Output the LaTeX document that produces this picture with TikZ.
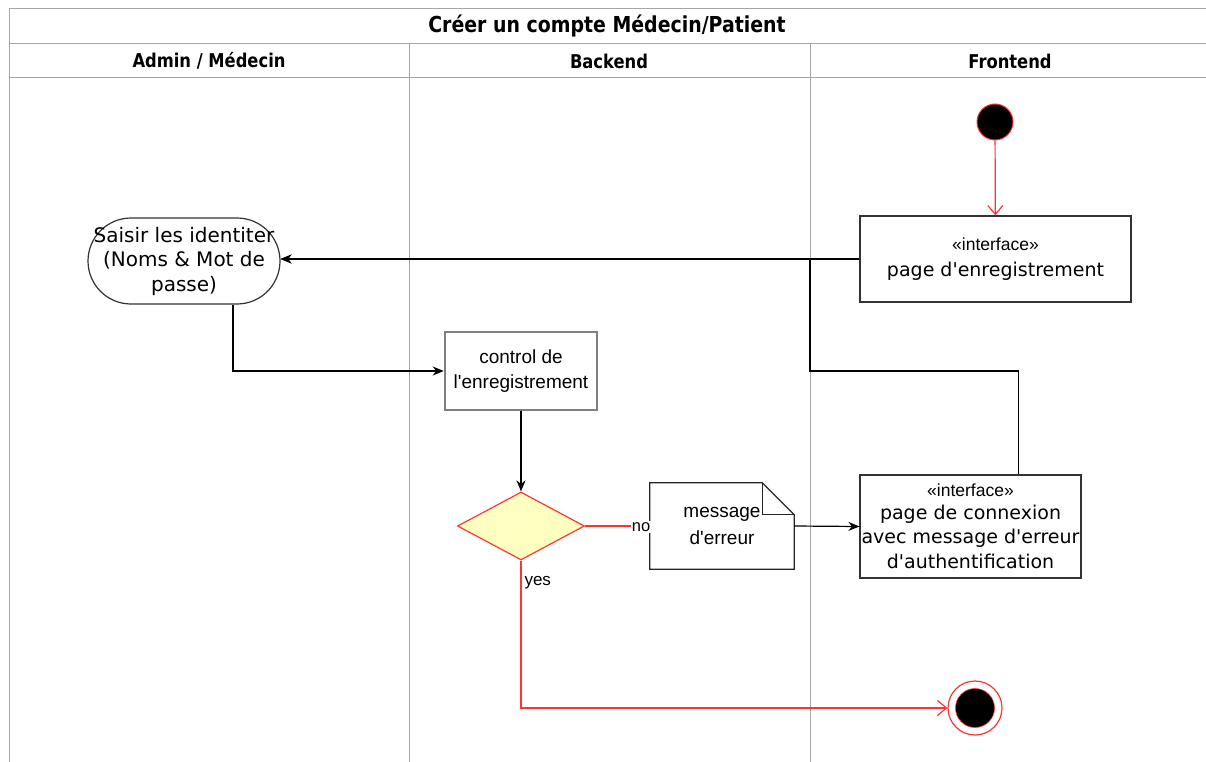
\documentclass[tikz,border=0pt]{standalone}
\usepackage{fontspec}
\newfontfamily\widef{DejaVu Sans}
\newfontfamily\narrowf{Liberation Sans}
\newfontfamily\headf[FakeStretch=0.86]{DejaVu Sans}
\usetikzlibrary{arrows.meta,shapes.geometric,calc}
\definecolor{lanegray}{HTML}{A6A6A6}
\definecolor{umlred}{HTML}{FF3333}
\definecolor{decfill}{HTML}{FFFFC0}
\begin{document}
\begin{tikzpicture}[x=1pt,y=-1pt,
        lane/.style={draw=lanegray,line width=1pt},
        lanehead/.style={font=\headf\bfseries\fontsize{19}{22}\selectfont},
        action/.style={draw=black!80,line width=1.2pt,fill=white,align=center,inner sep=2pt},
        flow/.style={draw=black,line width=1.2pt,-{Stealth[length=11pt,width=9pt]}},
        redflow/.style={draw=umlred,line width=1.2pt,-{Straight Barb[length=9pt,width=15pt]}}]
    \useasboundingbox (0,0) rectangle (1206,762);
    % swimlanes
    \draw[lane] (9,762) -- (9,9) -- (1206,9);
    \draw[lane] (9,44) -- (1206,44);
    \draw[lane] (9,78) -- (1206,78);
    \draw[lane] (409,44) -- (409,762);
    \draw[lane] (810,44) -- (810,762);
    \node[lanehead,font=\headf\bfseries\fontsize{22}{26}\selectfont] (title) at (607,26) {Créer un compte Médecin/Patient};
    \node[lanehead] (admin) at (209,61) {Admin / Médecin};
    \node[lanehead] (back) at (609,61) {Backend};
    \node[lanehead] (front) at (1010,61) {Frontend};
    % nodes
    \node[circle,fill=black,draw=umlred,line width=1pt,minimum size=36pt,inner sep=0pt] (start) at (995,122) {};
    \node[action,minimum width=271pt,minimum height=86pt,font=\widef\fontsize{19}{26}\selectfont] (pinscr) at (995.5,259)
        {{\narrowf\fontsize{17.5}{20}\selectfont «interface»}\\page d'enregistrement};
    \node[action,rounded corners=43pt,minimum width=192pt,minimum height=86pt,inner sep=0pt,font=\widef\fontsize{20}{24.5}\selectfont] (saisir) at (184,261)
        {Saisir les identiter\\(Noms \& Mot de\\passe)};
    \node[action,draw=black!50,line width=2.6pt,minimum width=152pt,minimum height=78pt,font=\narrowf\fontsize{19}{25}\selectfont] (ctrl) at (521,371)
        {control de\\l'enregistrement};
    \node[diamond,draw=umlred,fill=decfill,line width=1.2pt,minimum width=127pt,minimum height=68pt,inner sep=0pt,aspect=1.87] (dec) at (521,526) {};
    \node[minimum width=144pt,minimum height=86pt,align=center,inner sep=0pt,font=\narrowf\fontsize{19}{27}\selectfont] (msg) at (722,526)
        {message\\d'erreur};
    \draw[black!85,line width=1.2pt] (msg.north west) -- ([xshift=-32pt]msg.north east) -- ([yshift=-32pt]msg.north east)
        -- (msg.south east) -- (msg.south west) -- cycle;
    \draw[black!85,line width=1.2pt] ([xshift=-32pt]msg.north east) |- ([yshift=-32pt]msg.north east);
    \node[action,minimum width=221pt,minimum height=103pt,inner sep=0pt,font=\widef\fontsize{19}{24.5}\selectfont] (pconn) at (970.5,526.5)
        {{\narrowf\fontsize{17.5}{20}\selectfont «interface»}\\[-2pt]page de connexion\\avec message d'erreur\\d'authentification};
    \node[circle,draw=umlred,fill=white,line width=1.2pt,minimum size=54pt,inner sep=0pt] (stop) at (975,708) {};
    \node[circle,fill=black,draw=umlred,line width=0.6pt,minimum size=39pt,inner sep=0pt] (stopdot) at (stop) {};
    \coordinate (merge) at (810,371);
    % connectors
    \draw[redflow] (start) -- (pinscr);
    \draw[flow] (pinscr) -- (pinscr -| saisir.east);
    \draw[flow] ([xshift=49pt]saisir.south) |- (ctrl);
    \draw[flow] (ctrl) -- (dec);
    \draw[draw=umlred,line width=1.2pt] (dec.east) -- (msg.west);
    \node[fill=white,inner sep=1pt,font=\narrowf\fontsize{16.5}{18}\selectfont] (no) at (641,527) {no};
    \draw[flow] (msg.east) -- (pconn.west);
    \draw[flow] ([xshift=48pt]pconn.north) |- (merge) |- (pinscr -| saisir.east);
    \draw[redflow] (dec.south) |- (stop);
    \node[font=\narrowf\fontsize{17}{19}\selectfont,anchor=west] (yes) at (521,583) {yes};
\end{tikzpicture}
\end{document}
